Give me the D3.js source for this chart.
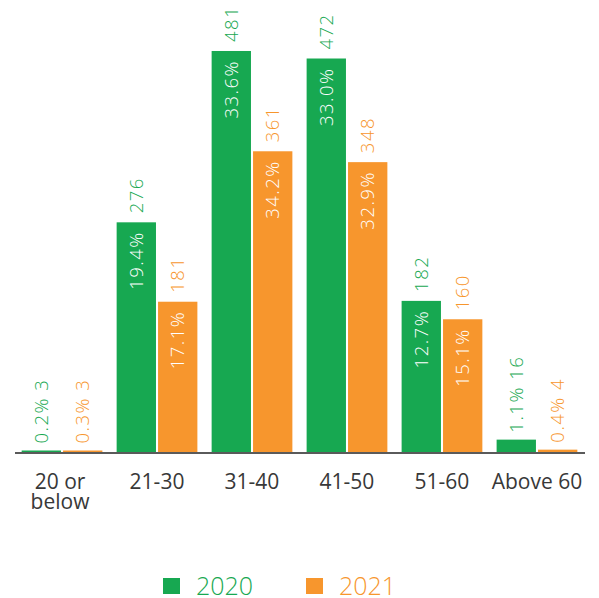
<!DOCTYPE html>
<html>
<head>
<meta charset="utf-8">
<script src="https://cdn.jsdelivr.net/npm/d3@7"></script>
<style>
  html, body { margin: 0; padding: 0; background: #ffffff; }
  svg { display: block; }
  text { font-family: "Open Sans", "Noto Sans", sans-serif; }
</style>
</head>
<body>
<svg id="chart" width="599" height="598"></svg>
<script>
// Age groups and headcount per year
const categories = ["20 or\nbelow", "21-30", "31-40", "41-50", "51-60", "Above 60"];
const seriesNames = ["2020", "2021"];
const counts2020 = [3, 276, 481, 472, 182, 16];
const counts2021 = [3, 181, 361, 348, 160, 4];
const pct2020 = ["0.2%", "19.4%", "33.6%", "33.0%", "12.7%", "1.1%"];
const pct2021 = ["0.3%", "17.1%", "34.2%", "32.9%", "15.1%", "0.4%"];
const seriesColors = ["#17a851", "#f7962d"];

const counts = [counts2020, counts2021];
const pcts = [pct2020, pct2021];

const svg = d3.select("#chart");

const baseY = 453;
const x0 = d3.scaleBand().domain(categories).range([15, 584]).paddingInner(0.15).paddingOuter(0.07);
const x1 = d3.scaleBand().domain(seriesNames).range([0, x0.bandwidth()]).paddingInner(0.05);
const y = d3.scaleLinear().domain([0, 542]).range([baseY, 0]);
const color = d3.scaleOrdinal().domain(seriesNames).range(seriesColors);

const rows = [];
categories.forEach((c, i) => {
  seriesNames.forEach((s, j) => {
    rows.push({ cat: c, series: s, value: counts[j][i], pct: pcts[j][i] });
  });
});

// Bars
svg.append("g").selectAll("rect")
  .data(rows)
  .join("rect")
  .attr("x", d => x0(d.cat) + x1(d.series))
  .attr("y", d => y(d.value))
  .attr("width", x1.bandwidth())
  .attr("height", d => baseY - y(d.value))
  .attr("fill", d => color(d.series));

// Baseline
svg.append("line")
  .attr("x1", 15).attr("x2", 585)
  .attr("y1", baseY).attr("y2", baseY)
  .attr("stroke", "#5a5a5a")
  .attr("stroke-width", 2);

// Value labels, rotated to read bottom-to-top
const labelSize = 18.5;
const labels = svg.append("g")
  .attr("font-size", labelSize)
  .attr("font-weight", 300)
  .attr("letter-spacing", 1.5);

rows.forEach(d => {
  const cx = x0(d.cat) + x1(d.series) + x1.bandwidth() / 2;
  const top = y(d.value);
  const tall = baseY - top > 60;
  if (tall) {
    labels.append("text")
      .attr("transform", `translate(${cx},${top - 9}) rotate(-90)`)
      .attr("dy", "0.35em")
      .attr("text-anchor", "start")
      .attr("fill", color(d.series))
      .text(d.value);
    labels.append("text")
      .attr("transform", `translate(${cx},${top + 9}) rotate(-90)`)
      .attr("dy", "0.35em")
      .attr("text-anchor", "end")
      .attr("fill", "#ffffff")
      .text(d.pct);
  } else {
    labels.append("text")
      .attr("transform", `translate(${cx},${top - 7}) rotate(-90)`)
      .attr("dy", "0.35em")
      .attr("text-anchor", "start")
      .attr("fill", color(d.series))
      .text(`${d.pct} ${d.value}`);
  }
});

// Category labels
const catG = svg.append("g")
  .attr("font-size", 21)
  .attr("fill", "#383838")
  .attr("text-anchor", "middle");
categories.forEach(c => {
  const cx = x0(c) + x0.bandwidth() / 2 - (c.includes("\n") ? 2 : 0);
  const t = catG.append("text").attr("x", cx).attr("y", 489);
  c.split("\n").forEach((line, k) => {
    t.append("tspan")
      .attr("x", cx)
      .attr("dy", k === 0 ? 0 : 20)
      .text(line);
  });
});

// Legend
const legendX = [163, 306];
const legend = svg.append("g");
seriesNames.forEach((s, j) => {
  legend.append("rect")
    .attr("x", legendX[j]).attr("y", 578)
    .attr("width", 17).attr("height", 16)
    .attr("fill", color(s));
  legend.append("text")
    .attr("x", legendX[j] + 33).attr("y", 595)
    .attr("font-size", 25)
    .attr("font-weight", 300)
    .attr("fill", color(s))
    .text(s);
});
</script>
</body>
</html>
